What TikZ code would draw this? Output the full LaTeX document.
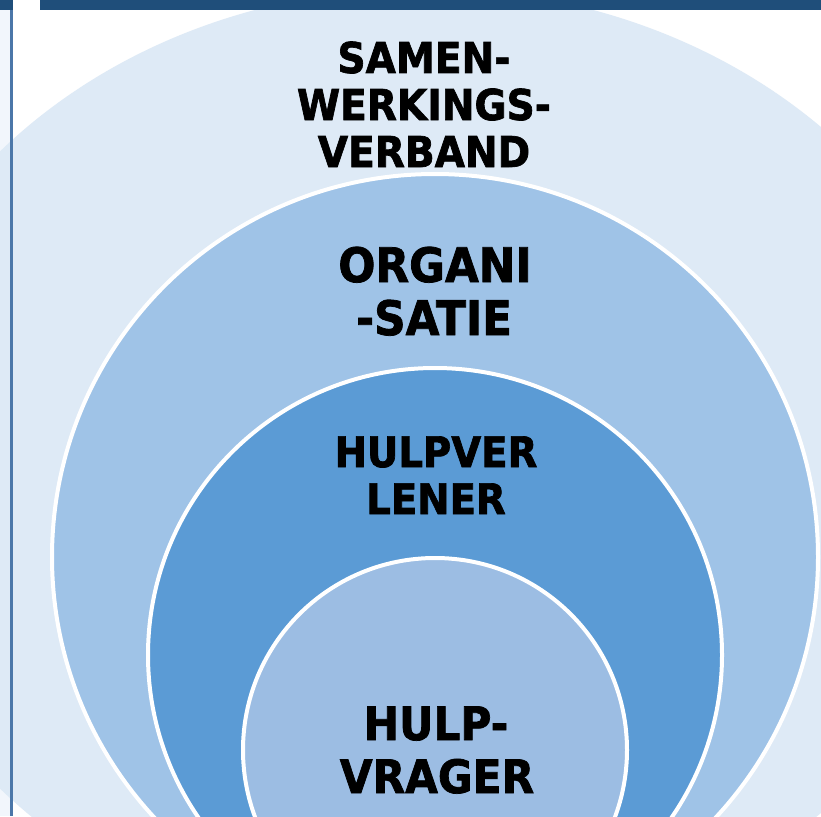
\documentclass[tikz,border=0pt]{standalone}
\usepackage{fontspec}
\newfontfamily\lblfont{DejaVu Sans}[FakeStretch=0.92, BoldFeatures={FakeBold=1.6}]
\definecolor{barblue}{HTML}{1F4E7A}
\definecolor{lineblue}{HTML}{4B77A9}
\definecolor{stripfill}{HTML}{F2F6FC}
\definecolor{outerfill}{HTML}{DEEAF6}
\definecolor{ringfill}{HTML}{9FC3E7}
\definecolor{midfill}{HTML}{5B9BD5}
\definecolor{corefill}{HTML}{9CBDE3}
\tikzset{
  ringshape/.style={draw=white, line width=4pt},
  lbl/.style={anchor=base, inner sep=0pt, font=\lblfont\bfseries, text=black},
  lblA/.style={lbl, font=\lblfont\bfseries\fontsize{42.5pt}{47pt}\selectfont},
  lblB/.style={lbl, font=\lblfont\bfseries\fontsize{47.5pt}{53pt}\selectfont},
  lblC/.style={lbl, font=\lblfont\bfseries\fontsize{42pt}{47pt}\selectfont},
  lblD/.style={lbl, font=\lblfont\bfseries\fontsize{46pt}{53pt}\selectfont}
}
\begin{document}
\begin{tikzpicture}[x=1pt,y=-1pt]
\useasboundingbox (0,0) rectangle (821,816);
\fill[white] (0,0) rectangle (821,816);
\begin{scope}
\clip (0,0) rectangle (821,816);
% left strip
\fill[stripfill] (0,0) rectangle (10,816);
% outer ellipse
\fill[outerfill] (424,470) ellipse [x radius=565pt, y radius=482pt];
% nested circles
\filldraw[ringshape, fill=ringfill] (435,557) circle [radius=383pt];
\filldraw[ringshape, fill=midfill] (435,655) circle [radius=287pt];
\filldraw[ringshape, fill=corefill] (435,750) circle [radius=192pt];
% left rule
\fill[lineblue] (9.5,10) rectangle (12.5,816);
% top bar
\fill[barblue] (0,0) rectangle (13,10);
\fill[barblue] (40,0) rectangle (821,10);
\end{scope}
% labels
\node[lblA] (s1) at (424,73) {SAMEN-};
\node[lblA] (s2) at (424,120) {WERKINGS-};
\node[lblA] (s3) at (424,167) {VERBAND};
\node[lblB] (o1) at (435,282) {ORGANI};
\node[lblB] (o2) at (434,335) {-SATIE};
\node[lblC] (h1) at (436,467) {HULPVER};
\node[lblC] (h2) at (436,514) {LENER};
\node[lblD] (v1) at (436,740) {HULP-};
\node[lblD] (v2) at (437,793) {VRAGER};
\end{tikzpicture}
\end{document}
